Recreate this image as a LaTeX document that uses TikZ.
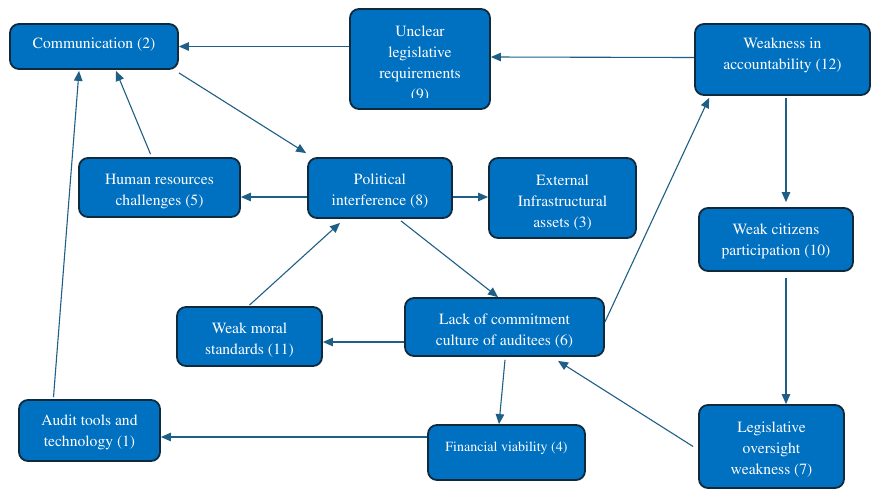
\documentclass[tikz,border=0pt]{standalone}
\usepackage[T1]{fontenc}
\renewcommand{\rmdefault}{ptm}
\usetikzlibrary{arrows.meta,calc}
\definecolor{boxfill}{HTML}{0070C0}
\definecolor{boxline}{HTML}{0F2A3C}
\definecolor{edgecol}{HTML}{1F5F86}
\begin{document}
\begin{tikzpicture}[x=1pt,y=-1pt,
  box/.style={draw=boxline, line width=1.8pt, fill=boxfill, rounded corners=9pt, inner sep=0pt},
  txt/.style={text=white, align=center, inner sep=0pt, font=\rmfamily\fontsize{15.6}{21}\selectfont},
  conn/.style={draw=edgecol, line width=1.1pt, -{Triangle[length=10pt,width=8.5pt]}}]
\useasboundingbox (0,0) rectangle (883,499);
\fill[white] (0,0) rectangle (883,499);
% boxes
\node[box, minimum width=168pt, minimum height=45pt] (comm) at (94,46.5) {};
\node[txt] (commtxt) at (94,44.5) {Communication (2)};
\node[box, minimum width=140pt, minimum height=100pt] (uncl) at (420,59) {};
\begin{scope}
\clip (350,9) rectangle (490,97);
\node[txt] (uncltxt) at (420,64.5) {Unclear\\legislative\\requirements\\(9)};
\end{scope}
\node[box, minimum width=175pt, minimum height=71pt] (acc) at (782.5,59.5) {};
\node[txt] (acctxt) at (782.5,55.5) {Weakness in\\accountability (12)};
\node[box, minimum width=161pt, minimum height=59pt] (hr) at (159.5,187.5) {};
\node[txt] (hrtxt) at (159.5,192) {Human resources\\challenges (5)};
\node[box, minimum width=144pt, minimum height=60pt] (pol) at (380,188) {};
\node[txt] (poltxt) at (380,191.5) {Political\\interference (8)};
\node[box, minimum width=147pt, minimum height=80pt] (ext) at (562.5,198) {};
\node[txt] (exttxt) at (562.5,202.5) {External\\Infrastructural\\assets (3)};
\node[box, minimum width=154pt, minimum height=63pt] (cit) at (776,239.5) {};
\node[txt] (cittxt) at (776,241) {Weak citizens\\participation (10)};
\node[box, minimum width=145pt, minimum height=59pt] (moral) at (249.5,336.5) {};
\node[txt] (moraltxt) at (249.5,340.5) {Weak moral\\standards (11)};
\node[box, minimum width=199pt, minimum height=58pt] (lack) at (504.5,327) {};
\node[txt] (lacktxt) at (504.5,331.5) {Lack of commitment\\culture of auditees (6)};
\node[box, minimum width=141pt, minimum height=61pt] (audit) at (89.5,430.5) {};
\node[txt] (audittxt) at (89.5,432.5) {Audit tools and\\technology (1)};
\node[box, minimum width=157pt, minimum height=55pt] (fin) at (506.5,452.5) {};
\node[txt, font=\rmfamily\fontsize{14}{21}\selectfont] (fintxt) at (506.5,448) {Financial viability (4)};
\node[box, minimum width=145pt, minimum height=83pt] (leg) at (771.5,446.5) {};
\node[txt] (legtxt) at (771.5,450) {Legislative\\oversight\\weakness (7)};
% connectors
\draw[conn] (uncl.west |- comm.east) -- (comm.east);
\draw[conn] ($(acc.west)+(0,-2)$) -- ($(uncl.east)+(0,-2)$);
\draw[conn] ($(comm.south east)+(0,3)$) -- ($(pol.north west)+(-1,-4)$);
\draw[conn] ($(hr.north)+(-9,-3)$) -- ($(comm.south)+(22,1)$);
\draw[conn] ($(audit.north)+(-36,-2)$) -- ($(comm.south)+(-15,1)$);
\draw[conn] ($(pol.west)+(0,9)$) -- ($(hr.east)+(0,9.5)$);
\draw[conn] ($(pol.east)+(0,9)$) -- ($(ext.west)+(0,-1)$);
\draw[conn] ($(pol.south)+(21,2)$) -- ($(lack.north)+(-6.5,0)$);
\draw[conn] ($(moral.north)+(0,-1)$) -- ($(pol.south)+(-40,4)$);
\draw[conn] ($(lack.west)+(0,15)$) -- ($(moral.east)+(0,5.5)$);
\draw[conn] ($(lack.east)+(0,-5)$) -- ($(acc.south west)+(15,2)$);
\draw[conn] ($(lack.south)+(0.5,3)$) -- ($(fin.north)+(-7.5,0)$);
\draw[conn] ($(fin.west)+(0,-15.5)$) -- ($(audit.east)+(0,6.5)$);
\draw[conn] ($(acc.south)+(3.5,2)$) -- ($(cit.north)+(10,-5)$);
\draw[conn] ($(cit.south)+(10,6)$) -- ($(leg.north)+(14.5,0)$);
\draw[conn] ($(leg.west)+(-5,0)$) -- ($(lack.south)+(53.5,4)$);
\end{tikzpicture}
\end{document}
